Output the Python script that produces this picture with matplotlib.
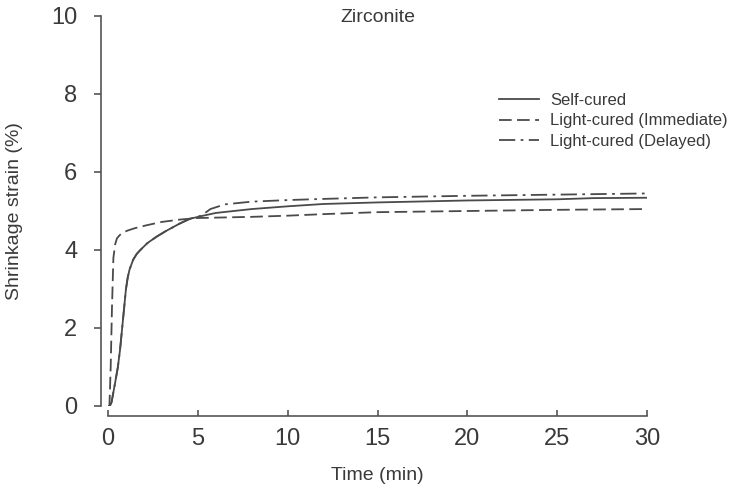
import matplotlib.pyplot as plt

# Shrinkage strain (%) vs time (min)
self_t = [0, 0.1, 0.2, 0.39, 0.55, 0.67, 0.85, 1.0, 1.1, 1.2, 1.4, 1.6, 1.8,
          2.2, 2.7, 3.2, 3.6, 4.0, 4.56, 5.2, 6, 8, 10, 12, 15, 20, 25, 27, 30]
self_y = [0, 0, 0.1, 0.58, 1.0, 1.44, 2.29, 3.0, 3.3, 3.5, 3.75, 3.9, 4.0,
          4.18, 4.34, 4.48, 4.58, 4.68, 4.8, 4.87, 4.95, 5.05, 5.12, 5.18,
          5.22, 5.27, 5.3, 5.33, 5.34]

imm_t = [0, 0.08, 0.15, 0.22, 0.3, 0.4, 0.5, 0.65, 0.8, 1.1, 1.5, 2.2, 3, 4,
         5, 8, 10, 12, 15, 20, 25, 30]
imm_y = [0, 0, 1.0, 2.5, 3.8, 4.15, 4.3, 4.38, 4.44, 4.5, 4.56, 4.64, 4.72,
         4.78, 4.82, 4.85, 4.88, 4.92, 4.97, 5.0, 5.03, 5.05]

del_t = [0, 0.1, 0.2, 0.39, 0.55, 0.67, 0.85, 1.0, 1.1, 1.2, 1.4, 1.6, 1.8,
         2.2, 2.7, 3.2, 3.6, 4.0, 4.56, 5.2, 5.7, 6.5, 8, 10, 12, 15, 20, 25, 30]
del_y = [0, 0, 0.1, 0.58, 1.0, 1.44, 2.29, 3.0, 3.3, 3.5, 3.75, 3.9, 4.0,
         4.18, 4.34, 4.48, 4.58, 4.68, 4.8, 4.88, 5.05, 5.17, 5.24, 5.28,
         5.31, 5.35, 5.39, 5.42, 5.45]

labels = ["Self-cured", "Light-cured (Immediate)", "Light-cured (Delayed)"]

plt.rcParams['font.family'] = ['Liberation Sans', 'DejaVu Sans']
txt = '#3a3a3a'
line_c = '#4a4a4a'

fig = plt.figure(figsize=(7.34, 4.87), dpi=100)
ax = fig.add_axes([108 / 734, 1 - 406 / 487, (647 - 108) / 734, (406 - 16) / 487])

ax.plot(del_t, del_y, color=line_c, lw=1.3, dashes=(9, 3, 1.5, 3), label=labels[2], zorder=2)
ax.plot(imm_t, imm_y, color=line_c, lw=1.3, dashes=(7, 3), label=labels[1], zorder=3)
ax.plot(self_t, self_y, color=line_c, lw=1.3, label=labels[0], zorder=4)

ax.set_xlim(0, 30)
ax.set_ylim(0, 10)
ax.set_xticks(range(0, 31, 5))
ax.set_yticks(range(0, 11, 2))

for s in ['top', 'right']:
    ax.spines[s].set_visible(False)
ax.spines['left'].set_position(('outward', 5))
ax.spines['bottom'].set_position(('outward', 7))
for s in ['left', 'bottom']:
    ax.spines[s].set_color('#555555')
    ax.spines[s].set_linewidth(1.2)

ax.tick_params(axis='x', direction='in', length=4, width=1.2, color='#555555',
               labelsize=17, labelcolor=txt, pad=9)
ax.tick_params(axis='y', direction='out', length=5, width=1.2, color='#555555',
               labelsize=17, labelcolor=txt, pad=12)

ax.set_xlabel("Time (min)", fontsize=14, color=txt, labelpad=12)
ax.set_ylabel("Shrinkage strain (%)", fontsize=14, color=txt, labelpad=20)
ax.text(0.5, 0.995, "Zirconite", transform=ax.transAxes, fontsize=14,
        color=txt, ha='center', va='center')

h, l = ax.get_legend_handles_labels()
order = [2, 1, 0]
ax.legend([h[i] for i in order], [l[i] for i in order], frameon=False,
          loc='upper left', bbox_to_anchor=(499 / 734, 1 - 93 / 487),
          bbox_transform=fig.transFigure, fontsize=12, labelcolor=txt,
          handlelength=2.4, handletextpad=0.65, labelspacing=0.33, borderpad=0,
          borderaxespad=0)

fig.savefig("out.png", dpi=100)
